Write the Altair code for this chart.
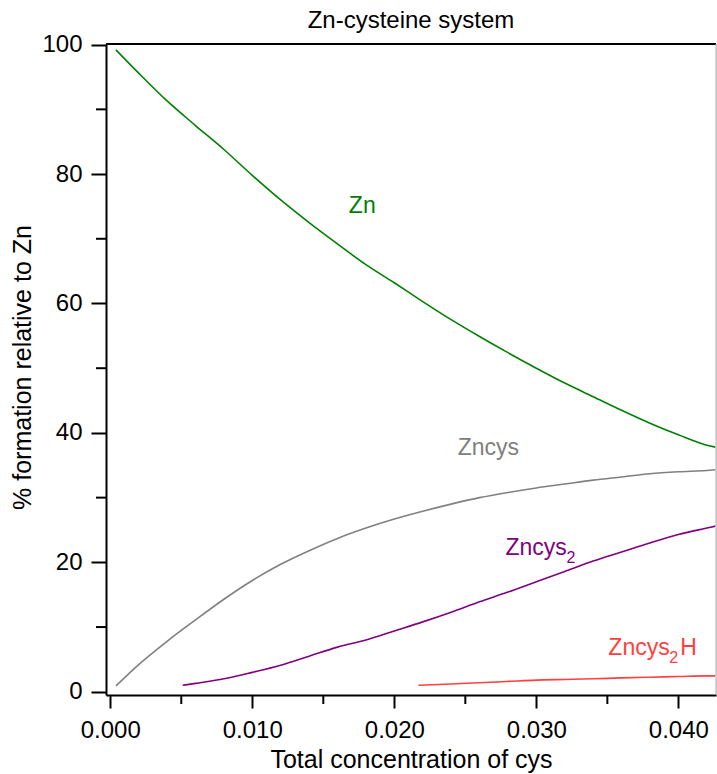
import altair as alt
import pandas as pd

# ---- data ----
conc_main = [0.0004, 0.002, 0.004, 0.006, 0.008, 0.010, 0.012, 0.014, 0.016, 0.018,
             0.020, 0.022, 0.024, 0.026, 0.028, 0.030, 0.032, 0.034, 0.036, 0.038,
             0.040, 0.042, 0.0426]
zn = [99.2, 95.6, 91.3, 87.5, 83.8, 79.8, 76.0, 72.5, 69.2, 66.0,
      63.2, 60.3, 57.5, 54.9, 52.4, 50.0, 47.7, 45.6, 43.5, 41.5,
      39.7, 38.1, 37.8]
zncys = [0.9, 4.2, 7.8, 11.1, 14.3, 17.2, 19.7, 21.8, 23.7, 25.3,
         26.7, 27.9, 29.0, 30.0, 30.8, 31.5, 32.1, 32.7, 33.2, 33.7,
         34.0, 34.2, 34.3]

conc_zncys2 = [0.0051, 0.006, 0.008, 0.010, 0.012, 0.014, 0.016, 0.018, 0.020, 0.022,
               0.024, 0.026, 0.028, 0.030, 0.032, 0.034, 0.036, 0.038, 0.040, 0.042, 0.0426]
zncys2 = [1.0, 1.3, 2.0, 3.0, 4.1, 5.5, 6.9, 8.0, 9.4, 10.8,
          12.3, 13.9, 15.4, 17.0, 18.6, 20.2, 21.6, 23.0, 24.3, 25.3, 25.6]

conc_zncys2h = [0.0217, 0.024, 0.026, 0.028, 0.030, 0.032, 0.034, 0.036, 0.038, 0.040, 0.042, 0.0426]
zncys2h = [1.0, 1.2, 1.4, 1.6, 1.8, 1.9, 2.0, 2.15, 2.25, 2.35, 2.45, 2.45]

species = ["Zn", "Zncys", "Zncys2", "Zncys2H"]
colors = ["#008000", "#808080", "#800080", "#ff4040"]

# curve labels (data coordinates)
label_species = ["Zn", "Zncys", "Zncys2", "Zncys2H"]
label_text = ["Zn", "Zncys", "Zncys", "Zncys"]
label_x = [0.0168, 0.02446, 0.02783, 0.03507]
label_y = [74.0, 36.6, 21.1, 5.65]
sub_species = ["Zncys2", "Zncys2H"]
sub_text = ["2", "2"]
tail_species = ["Zncys2H"]
tail_text = ["H"]

chart_title = ["Zn-cysteine system"]

x_major = [0.0, 0.010, 0.020, 0.030, 0.040]
x_minor = [0.005, 0.015, 0.025, 0.035]
y_major = [0, 20, 40, 60, 80, 100]
y_minor = [10, 30, 50, 70, 90]

# ---- tables ----
rows = []
for xs, ys, name in [(conc_main, zn, "Zn"), (conc_main, zncys, "Zncys"),
                     (conc_zncys2, zncys2, "Zncys2"), (conc_zncys2h, zncys2h, "Zncys2H")]:
    for xv, yv in zip(xs, ys):
        rows.append({"conc": xv, "pct": yv, "species": name})
df = pd.DataFrame(rows)

lab = pd.DataFrame({"conc": label_x, "pct": label_y, "species": label_species, "text": label_text})
sub = lab[lab["species"].isin(sub_species)].copy()
sub["text"] = sub_text
tail = lab[lab["species"].isin(tail_species)].copy()
tail["text"] = tail_text

FONT = "Liberation Sans"
W, H = 610, 651

xscale = alt.Scale(domain=[-0.0003, 0.04265], nice=False, zero=False)
yscale = alt.Scale(domain=[-0.5, 100.1], nice=False, zero=False)
cscale = alt.Scale(domain=species, range=colors)

x_axis = alt.Axis(
    values=x_major, format=".3f", title="Total concentration of cys",
    tickSize=13, tickWidth=2, tickColor="black", domainWidth=2, domainColor="black",
    labelFont=FONT, labelFontSize=24, labelColor="black",
    labelBaseline="alphabetic", labelPadding=29,
    titleFont=FONT, titleFontSize=25, titleFontWeight="normal", titleColor="black",
    titleBaseline="alphabetic", titleY=72, titleX=W / 2,
    grid=False, labelFlush=False, labelOverlap=False,
)
y_axis = alt.Axis(
    values=y_major, format="d", title="% formation relative to Zn",
    tickSize=15, tickWidth=2, tickColor="black", domainWidth=2, domainColor="black",
    labelFont=FONT, labelFontSize=24, labelColor="black", labelPadding=9,
    titleFont=FONT, titleFontSize=25, titleFontWeight="normal", titleColor="black",
    titleBaseline="alphabetic", titleX=-76, titleY=323, titleAngle=270,
    grid=False, labelFlush=False, labelOverlap=False,
)

lines = alt.Chart(df).mark_line(strokeWidth=1.6, clip=True, interpolate="monotone").encode(
    x=alt.X("conc:Q", scale=xscale, axis=x_axis),
    y=alt.Y("pct:Q", scale=yscale, axis=y_axis),
    color=alt.Color("species:N", scale=cscale, legend=None),
    detail="species:N",
)

def text_layer(data, size, dx, dy):
    return alt.Chart(data).mark_text(
        font=FONT, fontSize=size, align="left", baseline="alphabetic", dx=dx, dy=dy
    ).encode(
        x=alt.X("conc:Q", scale=xscale),
        y=alt.Y("pct:Q", scale=yscale),
        text="text:N",
        color=alt.Color("species:N", scale=cscale, legend=None),
    )

labels = text_layer(lab, 23, 0, 0)
subs = text_layer(sub, 16, 61, 8)
tails = text_layer(tail, 23, 72, 0)

# chart title as a text mark placed above the plot frame
title_mark = alt.Chart(pd.DataFrame({"t": chart_title})).mark_text(
    font=FONT, fontSize=24, align="center", baseline="alphabetic", color="black"
).encode(x=alt.value(W / 2), y=alt.value(-16), text="t:N")

# minor ticks
xminor_ticks = alt.Chart(pd.DataFrame({"conc": x_minor})).mark_rule(color="black", strokeWidth=2).encode(
    x=alt.X("conc:Q", scale=xscale), y=alt.value(H), y2=alt.value(H + 9)
)
yminor_ticks = alt.Chart(pd.DataFrame({"pct": y_minor})).mark_rule(color="black", strokeWidth=2).encode(
    y=alt.Y("pct:Q", scale=yscale), x=alt.value(-10), x2=alt.value(0)
)

frame_df = pd.DataFrame({"k": [0]})
top_border = alt.Chart(frame_df).mark_rule(color="black", strokeWidth=2).encode(
    x=alt.value(0), x2=alt.value(W), y=alt.value(0)
)
right_border = alt.Chart(frame_df).mark_rule(color="#b0b0b0", strokeWidth=1).encode(
    x=alt.value(W), y=alt.value(0), y2=alt.value(H)
)

chart = alt.layer(lines, labels, subs, tails, title_mark, xminor_ticks, yminor_ticks,
                  top_border, right_border).properties(
    width=W, height=H,
    padding={"left": 106, "top": 44, "right": 1, "bottom": 79},
    autosize=alt.AutoSizeParams(type="none"),
).configure_view(stroke=None).configure(background="white")

chart.save("out.html", embed_options={"renderer": "svg", "actions": False})
